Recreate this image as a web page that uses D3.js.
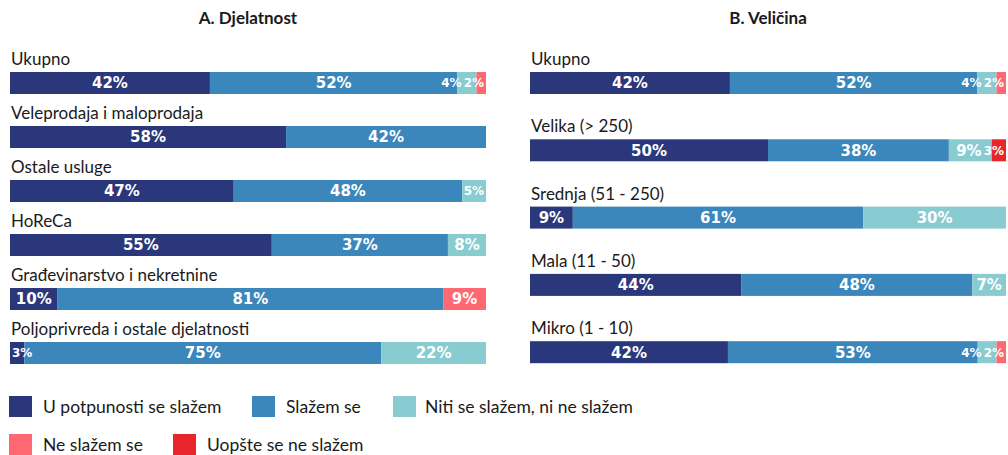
<!DOCTYPE html>
<html lang="hr">
<meta charset="utf-8">
<style>
  body { margin: 0; background: #fff; }
  svg { display: block; }
  .cat { font-family: Lato, "Open Sans", sans-serif; font-size: 17px; fill: #1a1a1a; }
  .title { font-family: Lato, sans-serif; font-weight: bold; font-size: 17px; fill: #1a1a1a; }
  .val { font-family: "DejaVu Sans", sans-serif; font-weight: bold; fill: #fff; }
  .leg { font-family: Lato, sans-serif; font-size: 17.5px; fill: #1a1a1a; }
</style>
<body>
<script src="https://d3js.org/d3.v7.min.js"></script>
<script>
// answer options (segment order)
var keys = ["U potpunosti se slažem", "Slažem se", "Niti se slažem, ni ne slažem", "Ne slažem se", "Uopšte se ne slažem"];
var colors = ["#2b377b", "#3b86ba", "#88cbd0", "#ff6870", "#e8252b"];

// A. Djelatnost
var catsA = ["Ukupno", "Veleprodaja i maloprodaja", "Ostale usluge", "HoReCa", "Građevinarstvo i nekretnine", "Poljoprivreda i ostale djelatnosti"];
var valsA = [
  [42, 52, 4, 2, 0],
  [58, 42, 0, 0, 0],
  [47, 48, 5, 0, 0],
  [55, 37, 8, 0, 0],
  [10, 81, 0, 9, 0],
  [3, 75, 22, 0, 0]
];

// B. Veličina
var catsB = ["Ukupno", "Velika (> 250)", "Srednja (51 - 250)", "Mala (11 - 50)", "Mikro (1 - 10)"];
var valsB = [
  [42, 52, 4, 2, 0],
  [50, 38, 9, 0, 3],
  [9, 61, 30, 0, 0],
  [44, 48, 7, 0, 0],
  [42, 53, 4, 2, 0]
];

var W = 1008, H = 455;
var svg = d3.select("body").append("svg").attr("width", W).attr("height", H);

function panel(title, cats, vals, x0, x1, y0, step) {
  var g = svg.append("g");
  g.append("text").attr("class", "title")
    .attr("x", (x0 + x1) / 2).attr("y", 24)
    .attr("text-anchor", "middle").text(title);

  var barH = 22;
  var y = d3.scaleLinear().domain([0, 1]).range([y0, y0 + step]);

  cats.forEach(function (c, i) {
    var row = vals[i];
    var total = d3.sum(row);
    var x = d3.scaleLinear().domain([0, total]).range([x0, x1]);
    var by = y(i);

    g.append("text").attr("class", "cat")
      .attr("x", x0 + 1).attr("y", by - 7).text(c);

    var acc = 0;
    var segs = row.map(function (v, k) {
      var s = { v: v, k: k, a: acc, b: acc + v };
      acc += v;
      return s;
    }).filter(function (s) { return s.v > 0; });

    var rg = g.append("g");
    rg.selectAll("rect").data(segs).enter().append("rect")
      .attr("x", function (d) { return x(d.a); })
      .attr("y", by)
      .attr("width", function (d) { return x(d.b) - x(d.a); })
      .attr("height", barH)
      .attr("fill", function (d) { return colors[d.k]; });

    var labels = rg.selectAll("text").data(segs).enter().append("text")
      .attr("class", "val")
      .attr("font-size", function (d) { return (x(d.b) - x(d.a)) < 30 ? 12 : 15; })
      .attr("y", by + barH / 2)
      .attr("dy", "0.36em")
      .text(function (d) { return d.v + "%"; });

    // position: centre, keep inside bar, push left on overlap
    var items = [];
    labels.each(function (d) {
      var w = this.getComputedTextLength();
      var cx = (x(d.a) + x(d.b)) / 2;
      var l = cx - w / 2;
      if (l + w > x1 - 2) l = x1 - 2 - w;
      if (l < x0 + 2) l = x0 + 2;
      items.push({ node: this, l: l, w: w });
    });
    for (var j = items.length - 2; j >= 0; j--) {
      var lim = items[j + 1].l - 2;
      if (items[j].l + items[j].w > lim) items[j].l = lim - items[j].w;
    }
    items.forEach(function (it) { d3.select(it.node).attr("x", it.l); });
  });
}

panel("A. Djelatnost", catsA, valsA, 10, 486, 72, 54);
panel("B. Veličina", catsB, valsB, 530, 1006, 72, 67.3);

// legend
var legPos = [[9, 396], [252, 396], [393, 396], [9, 434], [173, 434]];
var lg = svg.append("g").selectAll("g").data(keys).enter().append("g")
  .attr("transform", function (d, i) { return "translate(" + legPos[i][0] + "," + legPos[i][1] + ")"; });
lg.append("rect").attr("width", 23).attr("height", 21)
  .attr("fill", function (d, i) { return colors[i]; });
lg.append("text").attr("class", "leg")
  .attr("x", function (d, i) { return i === 2 ? 32 : 34; })
  .attr("y", 17).text(function (d) { return d; });
</script>
</body>
</html>
